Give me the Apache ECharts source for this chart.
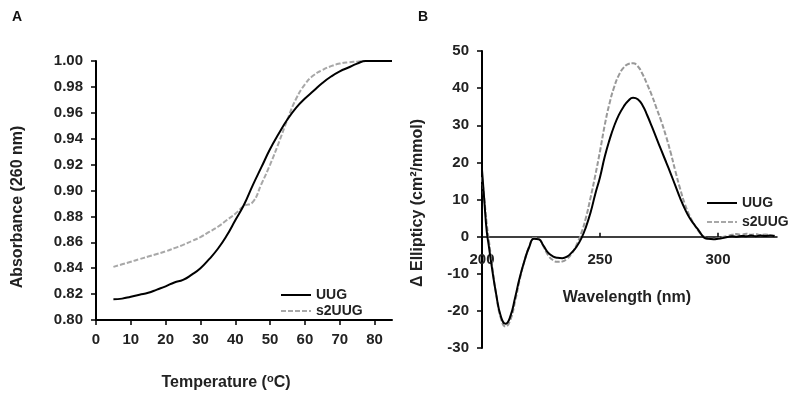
<!DOCTYPE html>
<html>
<head>
<meta charset="utf-8">
<script src="https://cdn.jsdelivr.net/npm/echarts@6/dist/echarts.min.js"></script>
<style>
html,body{margin:0;padding:0;background:#fff;}
#chart{width:788px;height:397px;}
</style>
</head>
<body>
<div id="chart"></div>
<script>
// Panel A: melting curves
var tempA = [5,7.5,10,12.5,15,17.5,20,22.5,25,27.5,30,32.5,35,37.5,40,42.5,45,47.5,50,52.5,55,57.5,60,62.5,65,67.5,70,72.5,75,77.5,80,82.5,85];
var uugA = [0.816,0.8165,0.818,0.8195,0.821,0.8235,0.826,0.829,0.831,0.835,0.840,0.847,0.855,0.865,0.877,0.889,0.904,0.918,0.932,0.944,0.955,0.964,0.971,0.977,0.983,0.988,0.992,0.995,0.998,1.0,1.0,1.0,1.0];
var s2uugA = [0.841,0.843,0.845,0.847,0.849,0.851,0.853,0.8555,0.858,0.861,0.864,0.868,0.872,0.877,0.882,0.888,0.891,0.905,0.920,0.937,0.955,0.971,0.982,0.989,0.993,0.996,0.998,0.999,0.9995,1.0,1.0,1.0,1.0];
var tempTicks = [0,10,20,30,40,50,60,70,80];

// Panel B: CD spectra
var waveB = [200,201,202,203,204,206,208,210,212,214,216,218,220,222,224,226,228,230,232,234,236,238,240,242,244,246,248,250,252,254,256,258,260,262,264,266,268,270,272,274,276,278,280,282,284,286,288,290,292,294,296,298,300,302,304,306,308,310,312,314,316,318,320,322,324];
var uugB = [18,9.5,1.5,-3,-7.5,-15.5,-21.5,-23.5,-21.5,-16.5,-11,-6.5,-2.8,-0.6,-0.7,-2.4,-4.3,-5.3,-5.7,-5.8,-5.4,-4.3,-2.8,-0.6,2.5,6.5,11.5,16,21.5,26,29.8,32.8,35,36.6,37.4,37.0,35.4,32.7,29.6,26.4,23.2,20.1,16.9,13.6,10.3,7.4,5,3.2,1.5,-0.2,-0.6,-0.7,-0.6,-0.4,-0.1,0.1,0,0.2,0.1,0.3,0.1,0.3,0.2,0.3,0.1];
var s2uugB = [16,10,3.5,-1.5,-6.5,-15.5,-22,-24.2,-22.5,-17.5,-11.5,-6.5,-2.7,-0.4,-0.6,-2.6,-5,-6.3,-6.8,-6.7,-6,-4.6,-2.3,0.8,5,10.5,16.5,23,30,35.8,40.3,43.5,45.5,46.5,46.7,45.9,43.8,41,38,34.5,31,27,22.5,17.5,12.8,8.7,5.6,3.2,1.3,0,-0.5,-0.6,-0.4,-0.1,0.2,0.5,0.7,0.5,0.8,0.5,0.7,0.4,0.6,0.4,0.3];
var waveTicks = [200,250,300];
var yMinB = -30, yMaxB = 50;

function pairs(xs, ys){ return xs.map(function(x,i){ return [x, ys[i]]; }); }

var FONT = '"Liberation Sans", Arial, sans-serif';
var labelStyle = {fontFamily: FONT, fontWeight: 'bold', fontSize: 15, color: '#222'};
var titleFont = 'bold 16px ' + FONT;
var gridB = {left: 482, top: 51, width: 295, height: 297};
// move panel B's x axis up to the zero line
var zeroOffsetB = -gridB.height * (0 - yMinB) / (yMaxB - yMinB);
var hiddenSymbol = {color: 'rgba(0,0,0,0)', borderColor: 'rgba(0,0,0,0)', borderWidth: 0};

var chart = echarts.init(document.getElementById('chart'), null, {renderer: 'canvas'});
chart.setOption({
  animation: false,
  backgroundColor: '#fff',
  grid: [
    {left: 96, top: 61, width: 296, height: 259},
    gridB
  ],
  xAxis: [
    {
      gridIndex: 0, type: 'value', min: 0, max: 85,
      axisLine: {onZero: false, lineStyle: {color: '#000', width: 2}},
      axisTick: {show: true, length: 5, customValues: tempTicks, lineStyle: {color: '#000', width: 1.5}},
      axisLabel: Object.assign({customValues: tempTicks, margin: 12}, labelStyle),
      splitLine: {show: false}
    },
    {
      gridIndex: 1, type: 'value', min: 200, max: 325, position: 'bottom', offset: zeroOffsetB,
      axisLine: {onZero: false, lineStyle: {color: '#000', width: 1.5}},
      axisTick: {show: true, inside: true, length: 4, customValues: waveTicks, lineStyle: {color: '#000', width: 1.5}},
      axisLabel: Object.assign({customValues: waveTicks, margin: 16}, labelStyle),
      splitLine: {show: false}
    }
  ],
  yAxis: [
    {
      gridIndex: 0, type: 'value', min: 0.8, max: 1.0, interval: 0.02,
      axisLine: {show: true, lineStyle: {color: '#000', width: 2}},
      axisTick: {show: true, length: 5, lineStyle: {color: '#000', width: 1.5}},
      axisLabel: Object.assign({margin: 13, formatter: function(v){ return v.toFixed(2); }}, labelStyle),
      splitLine: {show: false}
    },
    {
      gridIndex: 1, type: 'value', min: yMinB, max: yMaxB, interval: 10,
      axisLine: {show: true, lineStyle: {color: '#000', width: 2}},
      axisTick: {show: true, length: 5, lineStyle: {color: '#000', width: 1.5}},
      axisLabel: Object.assign({margin: 13}, labelStyle),
      splitLine: {show: false}
    }
  ],
  legend: [
    {
      left: 280, top: 288, padding: 0, orient: 'vertical', itemGap: 2, itemWidth: 30, itemHeight: 14,
      data: ['UUG', 's2UUG'], itemStyle: hiddenSymbol,
      textStyle: {fontFamily: FONT, fontWeight: 'bold', fontSize: 14, color: '#222'},
      selectedMode: false
    },
    {
      left: 706, top: 196, padding: 0, orient: 'vertical', itemGap: 5, itemWidth: 30, itemHeight: 14,
      data: ['UUG', 's2UUG'], itemStyle: hiddenSymbol,
      textStyle: {fontFamily: FONT, fontWeight: 'bold', fontSize: 14, color: '#222'},
      selectedMode: false
    }
  ],
  series: [
    {
      name: 'UUG', type: 'line', xAxisIndex: 0, yAxisIndex: 0,
      data: pairs(tempA, uugA), smooth: true, symbol: 'none',
      lineStyle: {color: '#000', width: 2}, itemStyle: {color: '#000'}, z: 3
    },
    {
      name: 's2UUG', type: 'line', xAxisIndex: 0, yAxisIndex: 0,
      data: pairs(tempA, s2uugA), smooth: true, symbol: 'none',
      lineStyle: {color: '#a8a8a8', width: 2, type: [5, 2]}, itemStyle: {color: '#a8a8a8'}, z: 2
    },
    {
      name: 'UUG', type: 'line', xAxisIndex: 1, yAxisIndex: 1,
      data: pairs(waveB, uugB), smooth: true, symbol: 'none',
      lineStyle: {color: '#000', width: 2}, itemStyle: {color: '#000'}, z: 3
    },
    {
      name: 's2UUG', type: 'line', xAxisIndex: 1, yAxisIndex: 1,
      data: pairs(waveB, s2uugB), smooth: true, symbol: 'none',
      lineStyle: {color: '#999', width: 2, type: [5, 2]}, itemStyle: {color: '#999'}, z: 2
    }
  ],
  graphic: [
    {type: 'text', x: 12, y: 10, style: {text: 'A', font: 'bold 14px ' + FONT, fill: '#111'}},
    {type: 'text', x: 418, y: 10, style: {text: 'B', font: 'bold 14px ' + FONT, fill: '#111'}},
    {type: 'text', x: 18, y: 207, rotation: Math.PI / 2,
      style: {text: 'Absorbance (260 nm)', font: titleFont, fill: '#222', align: 'center', verticalAlign: 'middle'}},
    {type: 'text', x: 226, y: 383,
      style: {
        text: 'Temperature ({sup|o}C)',
        font: titleFont, fill: '#222', align: 'center', verticalAlign: 'middle',
        rich: {sup: {fontFamily: FONT, fontWeight: 'bold', fontSize: 11, fill: '#222', padding: [0, 0, 8, 0]}}
      }},
    {type: 'text', x: 418, y: 203, rotation: Math.PI / 2,
      style: {text: '\u0394 Ellipticy (cm\u00B2/mmol)', font: titleFont, fill: '#222', align: 'center', verticalAlign: 'middle'}},
    {type: 'text', x: 627, y: 298,
      style: {text: 'Wavelength (nm)', font: titleFont, fill: '#222', align: 'center', verticalAlign: 'middle'}}
  ]
});
</script>
</body>
</html>
